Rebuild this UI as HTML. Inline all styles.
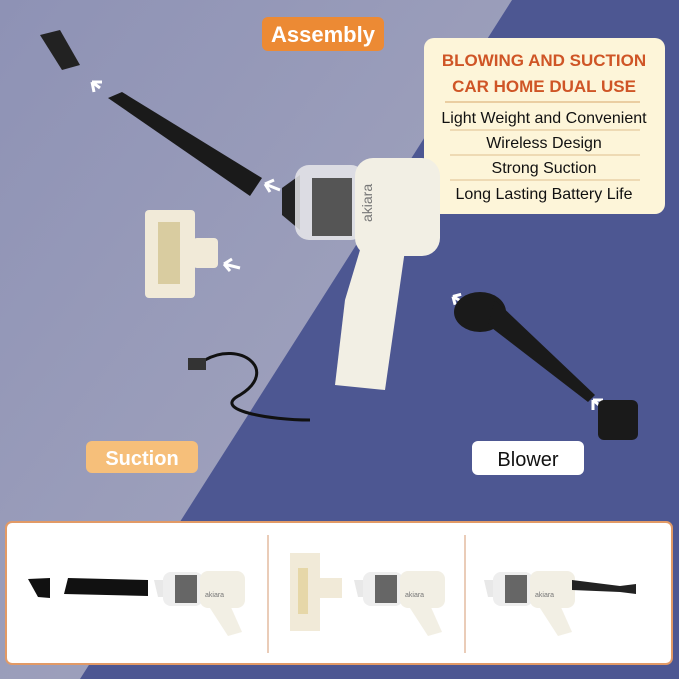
<!DOCTYPE html>
<html><head><meta charset="utf-8"><style>
body{margin:0;width:679px;height:679px;overflow:hidden;font-family:"Liberation Sans",sans-serif}
</style></head><body>
<svg width="679" height="679" xmlns="http://www.w3.org/2000/svg" font-family="Liberation Sans, sans-serif">
<defs>
<linearGradient id="lg" x1="0" y1="0" x2="1" y2="1"><stop offset="0" stop-color="#8e92b5"/><stop offset="1" stop-color="#a7a9c0"/></linearGradient>
</defs>
<rect width="679" height="679" fill="#4d5792"/>
<polygon points="0,0 512,0 80,679 0,679" fill="url(#lg)"/>
<rect x="262" y="17" width="122" height="34" rx="6" fill="#ec8a34"/>
<text x="323" y="42" font-size="22" font-weight="bold" fill="#fff" text-anchor="middle">Assembly</text>
<rect x="424" y="38" width="241" height="176" rx="10" fill="#fdf5d9"/>
<text x="544" y="66" font-size="17" font-weight="bold" fill="#cf5526" text-anchor="middle">BLOWING AND SUCTION</text>
<text x="544" y="92" font-size="17" font-weight="bold" fill="#cf5526" text-anchor="middle">CAR HOME DUAL USE</text>
<line x1="445" y1="102" x2="640" y2="102" stroke="#d7a66a"/>
<text x="544" y="123" font-size="16" fill="#111" text-anchor="middle">Light Weight and Convenient</text>
<line x1="450" y1="130" x2="640" y2="130" stroke="#e0c090"/>
<text x="544" y="148" font-size="16" fill="#111" text-anchor="middle">Wireless Design</text>
<line x1="450" y1="155" x2="640" y2="155" stroke="#e0c090"/>
<text x="544" y="173" font-size="16" fill="#111" text-anchor="middle">Strong Suction</text>
<line x1="450" y1="180" x2="640" y2="180" stroke="#e0c090"/>
<text x="544" y="199" font-size="16" fill="#111" text-anchor="middle">Long Lasting Battery Life</text>
<polygon points="40,35 60,30 80,65 62,70" fill="#222"/>
<polygon points="108,98 122,92 262,178 250,196" fill="#1a1a1a"/>
<path d="M100 88 l-8 -6 M92 82 l10 0 M92 82 l2 10" stroke="#fff" stroke-width="3" fill="none"/>
<path d="M280 190 l-15 -6 M265 184 l9 -4 M265 184 l5 8" stroke="#fff" stroke-width="3" fill="none"/>
<rect x="145" y="210" width="50" height="88" rx="4" fill="#f1ead8"/>
<rect x="158" y="222" width="22" height="62" fill="#d9cca0"/>
<rect x="193" y="238" width="25" height="30" rx="4" fill="#f1ead8"/>
<path d="M240 268 l-16 -4 M224 264 l8 -5 M224 264 l6 7" stroke="#fff" stroke-width="3" fill="none"/>
<polygon points="282,188 300,175 300,230 282,215" fill="#222"/>
<rect x="295" y="165" width="70" height="75" rx="14" fill="#e8e8ea" opacity="0.85"/>
<rect x="312" y="178" width="40" height="58" fill="#555"/>
<rect x="355" y="158" width="85" height="98" rx="18" fill="#f2efe4"/>
<text x="372" y="222" font-size="14" fill="#777" transform="rotate(-90 372 222)">akiara</text>
<polygon points="360,250 405,250 385,390 335,385 345,300" fill="#f2efe4"/>
<path d="M466 300 l-14 0 M452 300 l6 -6 M452 300 l6 6" stroke="#fff" stroke-width="3" fill="none" transform="rotate(30 459 300)"/>
<ellipse cx="480" cy="312" rx="26" ry="20" fill="#1a1a1a"/>
<polygon points="495,300 595,395 588,402 488,325" fill="#1a1a1a"/>
<path d="M605 410 l-12 -10 M593 400 l10 0 M593 400 l0 10" stroke="#fff" stroke-width="3" fill="none"/>
<rect x="598" y="400" width="40" height="40" rx="6" fill="#1a1a1a"/>
<path d="M205 360 C240 340 280 370 240 395 C210 410 270 420 310 420" stroke="#111" stroke-width="3" fill="none"/>
<rect x="188" y="358" width="18" height="12" fill="#333"/>
<rect x="86" y="441" width="112" height="32" rx="6" fill="#f6bf7a"/>
<text x="142" y="465" font-size="20" font-weight="bold" fill="#fff" text-anchor="middle">Suction</text>
<rect x="472" y="441" width="112" height="34" rx="6" fill="#fff"/>
<text x="528" y="466" font-size="20" fill="#111" text-anchor="middle">Blower</text>
<rect x="6" y="522" width="666" height="142" rx="6" fill="#fff" stroke="#e29a66" stroke-width="2"/>
<line x1="268" y1="535" x2="268" y2="653" stroke="#d59a70"/>
<line x1="465" y1="535" x2="465" y2="653" stroke="#d59a70"/>
<g id="v">
<polygon points="154,580 165,580 165,597 158,597" fill="#e8e8e8"/>
<rect x="163" y="572" width="40" height="34" rx="8" fill="#eee"/>
<rect x="175" y="575" width="22" height="28" fill="#666"/>
<rect x="200" y="571" width="45" height="37" rx="8" fill="#f2efe4"/>
<text x="205" y="597" font-size="7" fill="#777">akiara</text>
<polygon points="208,605 230,605 242,632 228,636" fill="#f2efe4"/>
</g>
<polygon points="28,579 50,578 50,598 38,597" fill="#111"/>
<polygon points="68,578 148,580 148,596 64,594" fill="#111"/>
<rect x="290" y="553" width="30" height="78" fill="#f1ead8"/>
<rect x="298" y="568" width="10" height="46" fill="#e6d7a8"/>
<rect x="318" y="578" width="24" height="20" fill="#f1ead8"/>
<use href="#v" x="200"/>
<use href="#v" x="330"/>
<polygon points="572,580 620,586 636,584 636,594 620,592 572,590" fill="#222"/>
</svg>
</body></html>
